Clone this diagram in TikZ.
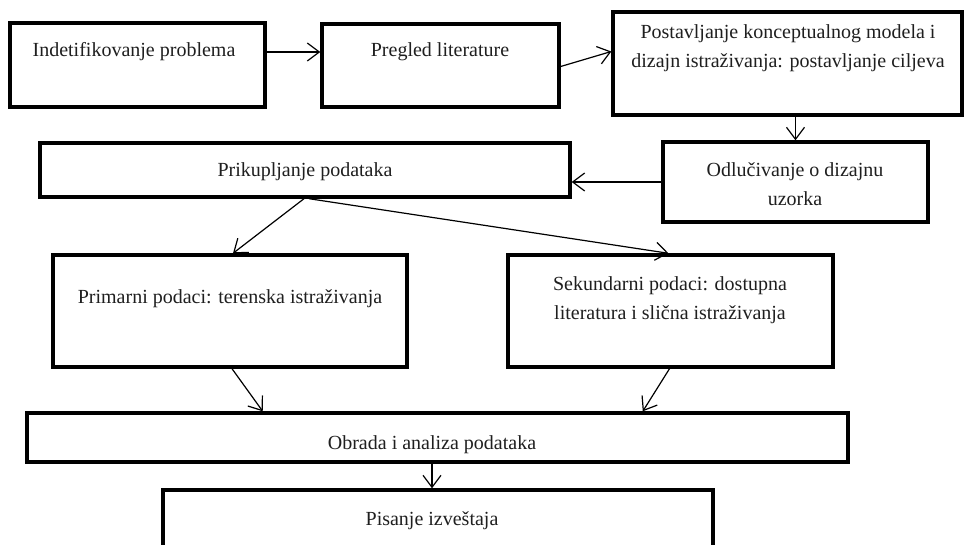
\documentclass[tikz,border=0pt]{standalone}
\usepackage{fontspec}
\setmainfont{Liberation Serif}
\usetikzlibrary{arrows.meta,calc}
\begin{document}
\begin{tikzpicture}[x=1pt,y=-1pt,
  box/.style={draw=black, line width=3.4pt, inner sep=0pt, fill=white},
  txt/.style={font=\fontsize{20}{29}\selectfont, align=center, text=black!88, inner sep=0pt},
  arr/.style={-{Straight Barb[length=12pt,width=18pt]}, line width=1.2pt}]
\useasboundingbox (0,0) rectangle (965,545);
\clip (0,0) rectangle (965,545);
% boxes
\node[box, minimum width=255pt, minimum height=84pt]  (b1) at (137.5,65) {};
\node[box, minimum width=237pt, minimum height=83pt]  (b2) at (440.5,65.5) {};
\node[box, minimum width=349pt, minimum height=103pt] (b3) at (787.5,63.5) {};
\node[box, minimum width=265pt, minimum height=80pt]  (b4) at (795.5,182) {};
\node[box, minimum width=530pt, minimum height=54pt]  (b5) at (305,170) {};
\node[box, minimum width=354pt, minimum height=112pt] (b6) at (230,311) {};
\node[box, minimum width=325pt, minimum height=112pt] (b7) at (670.5,311) {};
\node[box, minimum width=821pt, minimum height=49pt]  (b8) at (437.5,437.5) {};
\node[box, minimum width=550pt, minimum height=90pt]  (b9) at (438,535) {};
% texts
\node[txt] (t1) at (134,52) {Indetifikovanje problema};
\node[txt] (t2) at (440,52) {Pregled literature};
\node[txt] (t3) at (788,48) {Postavljanje konceptualnog modela i\\dizajn istraživanja: postavljanje ciljeva};
\node[txt] (t4) at (795,184) {Odlučivanje o dizajnu\\uzorka};
\node[txt] (t5) at (305,172) {Prikupljanje podataka};
\node[txt] (t6) at (230,299) {Primarni podaci: terenska istraživanja};
\node[txt] (t7) at (670,300) {Sekundarni podaci: dostupna\\literatura i slična istraživanja};
\node[txt] (t8) at (432,445) {Obrada i analiza podataka};
\node[txt] (t9) at (432,521) {Pisanje izveštaja};
% connectors
\draw[arr] (t1 -| b1.east) -- (t1 -| b2.west);
\draw[arr] ([yshift=-1pt]b2.east) -- ([yshift=12pt]b3.west);
\draw[arr] (b3.south -| b4.north) -- (b4.north);
\draw[arr] (b4.west) -- (b4.west -| b5.east);
\draw[arr] ([xshift=-1pt]b5.south) -- ([xshift=3pt]b6.north);
\draw[arr] ([xshift=4pt]b5.south) -- ([xshift=-2pt]b7.north);
\draw[arr] ([xshift=2pt]b6.south) -- ($(b8.north west)!0.288!(b8.north east)$);
\draw[arr] ([xshift=-1pt]b7.south) -- ($(b8.north west)!0.749!(b8.north east)$);
\draw[arr] (t8 |- b8.south) -- (t8 |- b9.north);
\end{tikzpicture}
\end{document}
